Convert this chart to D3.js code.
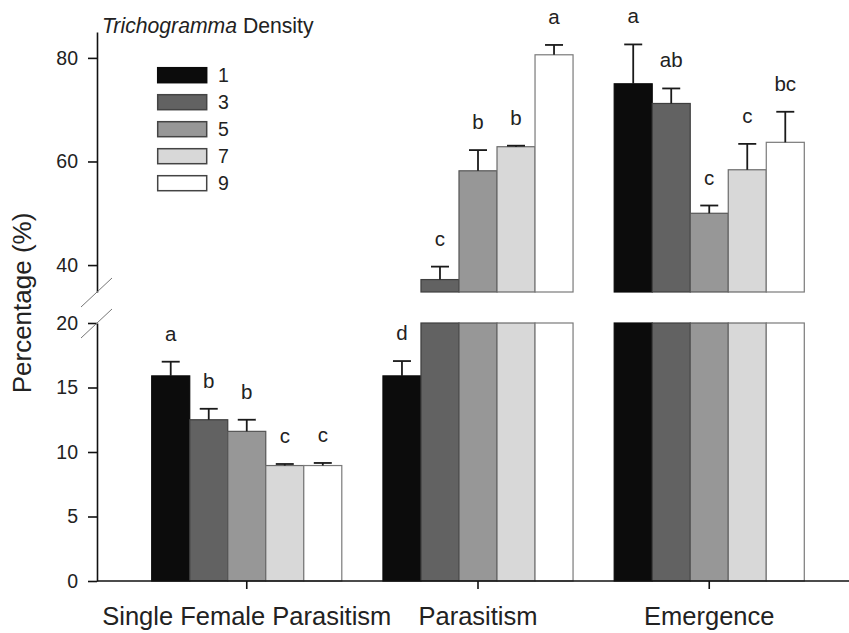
<!DOCTYPE html>
<html>
<head>
<meta charset="utf-8">
<script src="https://cdn.jsdelivr.net/npm/d3@7"></script>
<style>
  html, body { margin: 0; padding: 0; background: #fff; }
  svg { display: block; font-family: "Liberation Sans", Arial, sans-serif; }
</style>
</head>
<body>
<svg id="chart" width="849" height="633"></svg>
<script>
// ---- data ----
const categories = ["Single Female Parasitism", "Parasitism", "Emergence"];
const densities = ["1", "3", "5", "7", "9"];
const singleFemale = [15.9, 12.5, 11.6, 8.95, 8.95];
const singleFemaleErr = [1.1, 0.85, 0.9, 0.12, 0.2];
const parasitism = [15.9, 37.2, 58.2, 62.85, 80.6];
const parasitismErr = [1.15, 2.5, 4.0, 0.2, 1.9];
const emergence = [75.0, 71.2, 50.0, 58.4, 63.7];
const emergenceErr = [7.6, 2.9, 1.5, 5.0, 5.9];
const sigLetters = [
  ["a", "b", "b", "c", "c"],
  ["d", "c", "b", "b", "a"],
  ["a", "ab", "c", "c", "bc"]
];
const lowerTicks = [0, 5, 10, 15, 20];
const upperTicks = [40, 60, 80];
const fills = ["#0c0c0c", "#626262", "#979797", "#d8d8d8", "#ffffff"];
const strokes = ["#0a0a0a", "#3e3e3e", "#555555", "#6a6a6a", "#7a7a7a"];

const values = [singleFemale, parasitism, emergence];
const errors = [singleFemaleErr, parasitismErr, emergenceErr];

// ---- layout ----
const svg = d3.select("#chart");
const axisX = 97;
const lowerTop = 323, lowerBottom = 581;
const upperTop = 32, upperBottom = 292;

const x = d3.scaleBand().domain(categories).range([axisX, 859])
  .paddingInner(0.178).paddingOuter(0.2366);
const xi = d3.scaleBand().domain(densities).range([0, x.bandwidth()]);

const yL = d3.scaleLinear().domain([0, 20]).range([lowerBottom, lowerTop]);
const yU = d3.scaleLinear().domain([34.8, 85]).range([upperBottom, upperTop]);

const textColor = "#222";

// ---- bars ----
const rows = [];
categories.forEach((c, ci) => {
  densities.forEach((d, di) => {
    rows.push({ c, ci, d, di, v: values[ci][di], e: errors[ci][di], lab: sigLetters[ci][di] });
  });
});

const g = svg.append("g");

// lower parts
g.selectAll("rect.lower").data(rows).join("rect")
  .attr("class", "lower")
  .attr("x", r => x(r.c) + xi(r.d))
  .attr("width", xi.bandwidth())
  .attr("y", r => yL(Math.min(r.v, 20)))
  .attr("height", r => yL(0) - yL(Math.min(r.v, 20)))
  .attr("fill", r => fills[r.di])
  .attr("stroke", r => strokes[r.di])
  .attr("stroke-width", 1.2);

// upper parts
const upperRows = rows.filter(r => r.v > 20);
g.selectAll("rect.upper").data(upperRows).join("rect")
  .attr("class", "upper")
  .attr("x", r => x(r.c) + xi(r.d))
  .attr("width", xi.bandwidth())
  .attr("y", r => yU(r.v))
  .attr("height", r => yU(34.8) - yU(r.v))
  .attr("fill", r => fills[r.di])
  .attr("stroke", r => strokes[r.di])
  .attr("stroke-width", 1.2);

// error bars
const yOf = r => (r.v > 20 ? yU : yL);
const capW = 18;
const eb = g.selectAll("g.err").data(rows).join("g").attr("class", "err")
  .attr("stroke", "#1a1a1a").attr("stroke-width", 1.8);
eb.append("line")
  .attr("x1", r => x(r.c) + xi(r.d) + xi.bandwidth() / 2)
  .attr("x2", r => x(r.c) + xi(r.d) + xi.bandwidth() / 2)
  .attr("y1", r => yOf(r)(r.v))
  .attr("y2", r => yOf(r)(r.v + r.e));
eb.append("line")
  .attr("x1", r => x(r.c) + xi(r.d) + xi.bandwidth() / 2 - capW / 2)
  .attr("x2", r => x(r.c) + xi(r.d) + xi.bandwidth() / 2 + capW / 2)
  .attr("y1", r => yOf(r)(r.v + r.e))
  .attr("y2", r => yOf(r)(r.v + r.e));

// significance letters
g.selectAll("text.sig").data(rows).join("text")
  .attr("class", "sig")
  .attr("x", r => x(r.c) + xi(r.d) + xi.bandwidth() / 2)
  .attr("y", r => yOf(r)(r.v + r.e) - 21)
  .attr("text-anchor", "middle")
  .attr("font-size", 20.5)
  .attr("fill", textColor)
  .text(r => r.lab);

// ---- axes ----
const styleAxis = sel => {
  sel.selectAll("path, line").attr("stroke", "#111").attr("stroke-width", 1.6);
  sel.selectAll("text").attr("fill", textColor).attr("font-family", "Liberation Sans, Arial, sans-serif");
};

const axL = svg.append("g").attr("transform", `translate(${axisX},0)`)
  .call(d3.axisLeft(yL).tickValues(lowerTicks).tickSize(9).tickSizeOuter(0).tickPadding(10))
  .call(styleAxis);
axL.selectAll("text").attr("font-size", 19.5);

const axU = svg.append("g").attr("transform", `translate(${axisX},0)`)
  .call(d3.axisLeft(yU).tickValues(upperTicks).tickSize(9).tickSizeOuter(0).tickPadding(10))
  .call(styleAxis);
axU.selectAll("text").attr("font-size", 19.5);

const axB = svg.append("g").attr("transform", `translate(0,${lowerBottom})`)
  .call(d3.axisBottom(x).tickSize(8).tickSizeOuter(0).tickPadding(18))
  .call(styleAxis);
axB.select("path.domain").remove();
axB.selectAll("text").attr("font-size", 25.5);
svg.append("line")
  .attr("x1", axisX).attr("x2", 849)
  .attr("y1", lowerBottom).attr("y2", lowerBottom)
  .attr("stroke", "#111").attr("stroke-width", 1.6);

// break marks
[upperBottom, lowerTop].forEach(yb => {
  svg.append("line")
    .attr("x1", axisX - 16).attr("y1", yb + 15)
    .attr("x2", axisX + 15).attr("y2", yb - 14)
    .attr("stroke", "#777").attr("stroke-width", 1);
});

// y title
svg.append("text")
  .attr("transform", "translate(31,303) rotate(-90)")
  .attr("text-anchor", "middle")
  .attr("font-size", 26)
  .attr("fill", textColor)
  .text("Percentage (%)");

// ---- legend ----
const lg = svg.append("g");
const title = lg.append("text").attr("x", 102).attr("y", 33)
  .attr("font-size", 21.2).attr("fill", textColor);
title.append("tspan").attr("font-style", "italic").text("Trichogramma");
title.append("tspan").text(" Density");

const ly = d3.scaleBand().domain(densities).range([67.7 - 6, 67.7 - 6 + 27 * 5]);
densities.forEach((d, i) => {
  lg.append("rect")
    .attr("x", 157.7).attr("y", ly(d) + 6)
    .attr("width", 49).attr("height", 15)
    .attr("fill", fills[i]).attr("stroke", strokes[i] === "#0a0a0a" ? "#0a0a0a" : "#444")
    .attr("stroke-width", 1.5);
  lg.append("text")
    .attr("x", 218).attr("y", ly(d) + 6 + 7.5)
    .attr("dy", "0.36em")
    .attr("font-size", 19.5).attr("fill", textColor)
    .text(d);
});
</script>
</body>
</html>
